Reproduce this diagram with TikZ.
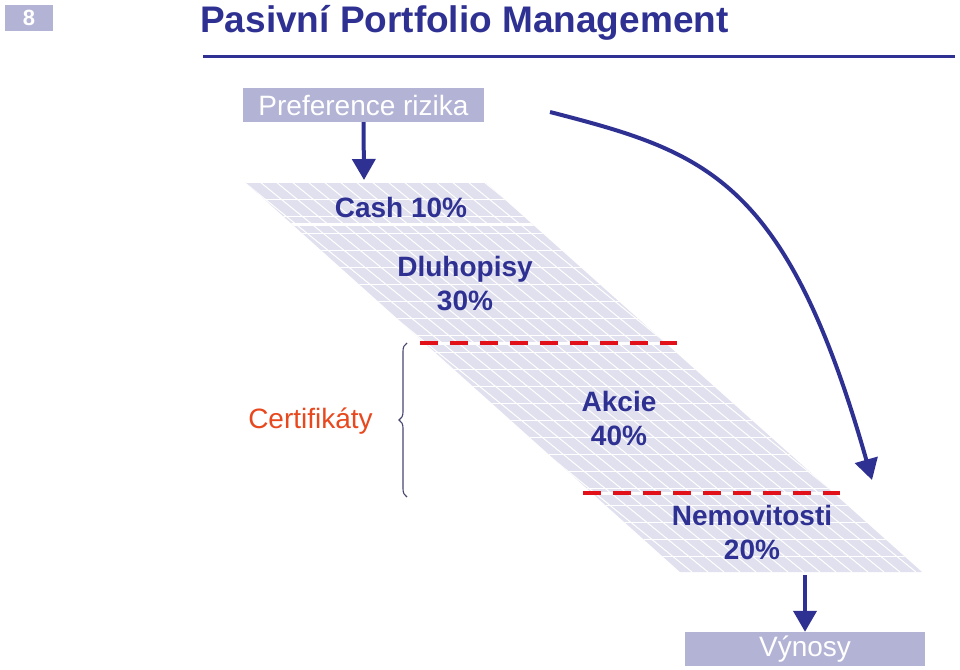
\documentclass[tikz,border=0pt]{standalone}
\usepackage{fontspec}
\setmainfont{Liberation Sans}
\usetikzlibrary{arrows.meta,decorations.pathreplacing,positioning}

\definecolor{ppblue}{RGB}{46,49,146}
\definecolor{pplav}{RGB}{179,179,214}
\definecolor{ppband}{RGB}{224,224,238}
\definecolor{ppred}{RGB}{226,16,24}
\definecolor{pporange}{RGB}{232,72,30}
\definecolor{ppbrace}{RGB}{70,70,110}

\tikzset{
	lavbox/.style={fill=pplav, text=white, inner sep=0pt, font=\fontsize{28}{28}\selectfont},
	bandtext/.style={text=ppblue, inner sep=0pt, align=center, font=\bfseries\fontsize{28}{34}\selectfont},
	bigarrow/.style={draw=ppblue, line width=4pt, -{Triangle[length=21pt,width=23pt]}},
	cutline/.style={draw=ppred, line width=4pt, dash pattern=on 18pt off 12pt},
	gridline/.style={draw=white, line width=1pt},
	bracestyle/.style={draw=ppbrace, line width=1.1pt, decorate, decoration={brace, amplitude=8pt}},
}

\begin{document}
\begin{tikzpicture}[x=1pt,y=-1pt]
	\useasboundingbox (0,0) rectangle (960,669);
	
	% slide number, title
	\node[fill=pplav, text=white, minimum width=48pt, minimum height=26pt, inner sep=0pt, font=\bfseries\fontsize{22}{22}\selectfont] (num) at (29,18) {8};
	\node[anchor=base west, inner sep=0pt, text=ppblue, font=\bfseries\fontsize{37}{37}\selectfont] (title) at (200,33) {Pasivní Portfolio Management};
	\draw[ppblue, line width=3pt] (203,57) -- (955,57);
	
	% the band
	\coordinate (b1) at (245,182);
	\coordinate (b2) at (485,182);
	\coordinate (b3) at (922,572);
	\coordinate (b4) at (680,572);
	\fill[ppband] (b1) -- (b2) -- (b3) -- (b4) -- cycle;
	\begin{scope}
		\clip (b1) -- (b2) -- (b3) -- (b4) -- cycle;
		\foreach \k in {0,...,23}
			\draw[gridline] (200,182+17*\k) -- (960,182+17*\k);
		\foreach \x in {-300,-284,...,520}
			\draw[gridline] (\x,182) -- ++(480,390);
		\foreach \y in {224,343,493}
			\draw[white, line width=3pt] (200,\y) -- (960,\y);
	\end{scope}
	
	\node[bandtext] (cash) at (401,207) {Cash 10\%};
	\node[bandtext] (dluh) at (465,284) {Dluhopisy\\30\%};
	\node[bandtext] (akcie) at (619,418) {Akcie\\40\%};
	\node[bandtext] (nemov) at (752,532) {Nemovitosti\\20\%};
	
	\draw[cutline] (420,343) -- (677,343);
	\draw[cutline] (583,493) -- (840,493);
	
	% certificates
	\draw[bracestyle] (407,497) -- (407,343);
	\node[anchor=base, inner sep=0pt, text=pporange, font=\fontsize{28}{28}\selectfont] (cert) at (310.5,428) {Certifikáty};
	
	% boxes and arrows
	\node[lavbox, minimum width=241pt, minimum height=34pt] (pref) at (363.5,105) {Preference rizika};
	\node[lavbox, minimum width=240pt, minimum height=34pt] (vyn) at (805,649) {Výnosy};
	
	\coordinate (cashtop) at (364,180);
	\coordinate (nembot) at (805,575);
	\coordinate (retstart) at (550,112);
	\coordinate (rettip) at (872,480);
	
	\draw[bigarrow] (pref.south) -- (cashtop);
	\draw[bigarrow] (nembot) -- (vyn.north);
	\draw[bigarrow] (retstart) .. controls (705,152) and (786,177) .. (rettip);
\end{tikzpicture}
\end{document}
